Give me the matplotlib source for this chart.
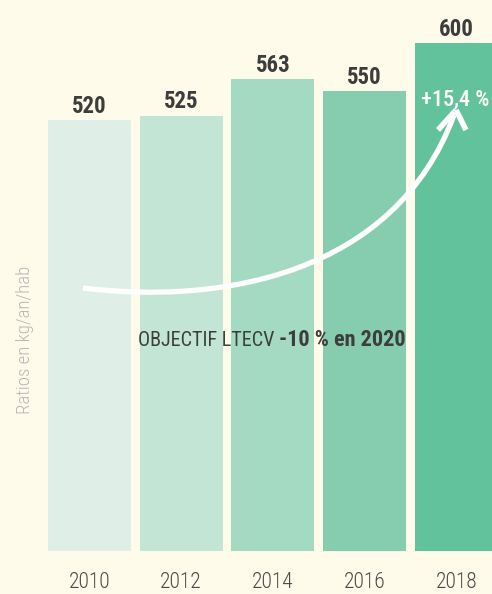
import matplotlib
matplotlib.use("Agg")
import matplotlib.pyplot as plt
from matplotlib.path import Path
from matplotlib.patches import PathPatch
from matplotlib.lines import Line2D
from matplotlib import font_manager as fm

years = ["2010", "2012", "2014", "2016", "2018"]
values = [520, 525, 563, 550, 600]
colors = ["#dfefe7", "#c3e5d5", "#a4d9c2", "#86cdb0", "#62c29c"]
growth_label = "+15,4 %"
y_label = "Ratios en kg/an/hab"
objective_regular = "OBJECTIF LTECV"
objective_bold = "-10 % en 2020"

BG = "#fffbea"
DARK = "#3d3d3d"

# pick a condensed font if available
names = {f.name for f in fm.fontManager.ttflist}
family = "DejaVu Sans"
stretch = "normal"
for cand in ["Roboto Condensed", "Open Sans Condensed", "Liberation Sans Narrow"]:
    if cand in names:
        family = cand
        break
else:
    for f in fm.fontManager.ttflist:
        if f.name == "DejaVu Sans" and f.stretch in ("condensed", "semi-condensed"):
            stretch = "condensed"
            break

W, H = 492, 594
fig = plt.figure(figsize=(W / 100, H / 100), dpi=100, facecolor=BG)

def px(x, y):
    return (x / W, 1 - y / H)

ax = fig.add_axes([0, 43 / H, 1, 551 / H])
ax.set_facecolor(BG)
x = list(range(len(years)))
ax.bar(x, values, width=0.905, color=colors, zorder=1)
ax.set_xlim(-0.975, 4.387)
ax.set_ylim(72.7, 645)
for s in ax.spines.values():
    s.set_visible(False)
ax.set_yticks([])
ax.set_xticks(x)
ax.set_xticklabels(years, family=family, stretch=stretch, fontsize=15.5,
                   color="#4a4a4a", fontweight="light")
ax.tick_params(axis="x", length=0, pad=15)

for xi, v in zip(x, values):
    ax.annotate(str(v), (xi, v), xytext=(0, 1.5), textcoords="offset points",
                ha="center", va="bottom", fontsize=16.5, fontweight="bold",
                color=DARK, family=family, stretch=stretch)

# growth label
fig.text(*px(455, 100), growth_label, ha="center", va="center", color="white",
         fontsize=16, family=family, stretch=stretch, fontweight="medium")

# y label
fig.text(*px(25, 340), y_label, rotation=90, ha="center", va="center",
         color="#b8b8b8", fontsize=13.5, family=family, stretch=stretch,
         fontweight="light")

# objective text
fig.text(*px(274, 340), objective_regular, ha="right", va="center",
         color=DARK, fontsize=14.5, family=family, stretch=stretch)
fig.text(*px(279, 340), objective_bold, ha="left", va="center",
         color=DARK, fontsize=16, family=family, stretch=stretch, fontweight="bold")

# curved arrow
P0, P1, P2, P3 = (83, 288), (220, 305), (395, 275), (454, 115)
verts = [px(*p) for p in (P0, P1, P2, P3)]
path = Path(verts, [Path.MOVETO, Path.CURVE4, Path.CURVE4, Path.CURVE4])
fig.patches.append(PathPatch(path, transform=fig.transFigure, fill=False,
                             edgecolor="white", linewidth=3.8, capstyle="butt"))
tip = (456, 110)
for arm in [(438, 130), (466, 130)]:
    a, b = px(*arm), px(*tip)
    fig.lines.append(Line2D([a[0], b[0]], [a[1], b[1]], transform=fig.transFigure,
                            color="white", linewidth=4, solid_capstyle="butt"))

fig.savefig("out.png", dpi=100, facecolor=BG)
